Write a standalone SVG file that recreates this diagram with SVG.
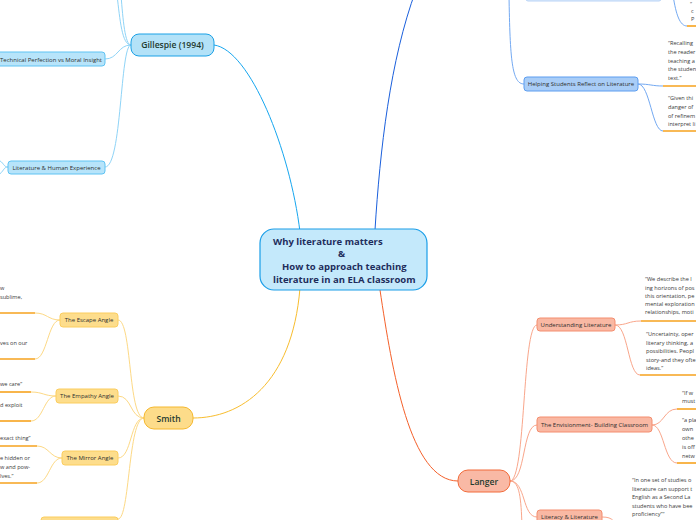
<svg xmlns="http://www.w3.org/2000/svg" width="696" height="520" viewBox="0 0 696 520">
<style>
.t{font-family:"Open Sans","Noto Sans","DejaVu Sans",sans-serif}
.main{font-size:9.5px;font-weight:bold;fill:#1e2d5c}
.mt{font-size:8.6px;font-weight:600;fill:#1f3b2f}
.sub{font-size:6px;fill:#2e2e2e}
.q{font-size:5.6px;fill:#3a3a3a}
.ul{stroke:#f6a21e;stroke-width:1.6;fill:none}
.c{fill:none;stroke-width:1}
.gb{fill:#b7e4fa;stroke:#5ec3f3;stroke-width:1}
.hb{fill:#a9cdf7;stroke:#5c9df0;stroke-width:1}
.sb{fill:#fddd8c;stroke:#fbcd5e;stroke-width:1}
.lb{fill:#f9b8a3;stroke:#f48d6e;stroke-width:1}
</style>
<rect width="696" height="520" fill="#ffffff"/>
<g id="connectors">
  <path class="c" stroke="#16a6ef" stroke-width="1.8" d="M300,232 C290,150 250,50 214,45"/>
  <path class="c" stroke="#1a5fdc" stroke-width="1.8" d="M375,230 C380,150 390,60 416,-10"/>
  <path class="c" stroke="#f8bd2e" stroke-width="1.8" d="M300,288 C292,385 240,418 193,418"/>
  <path class="c" stroke="#f4602a" stroke-width="1.8" d="M380,290 C392,370 410,481 458,481"/>
  <g stroke="#8fd4f7">
    <path class="c" d="M131,45 C118,45 118,59 105,59"/>
    <path class="c" d="M131,45 C120,45 122,167 105,167"/>
    <path class="c" d="M131,45 C122,45 120,20 117,-5"/>
    <path class="c" d="M131,45 C125,45 123,20 121,-5"/>
    <path class="c" d="M8,167 C3,167 4,162 -2,160"/>
    <path class="c" d="M8,167 C3,167 4,172 -2,175"/>
  </g>
  <g stroke="#73a9f2">
    <path class="c" d="M509,-5 C510,60 512,84 524,84"/>
    <path class="c" d="M638,84 C650,84 652,86 663,86"/>
    <path class="c" d="M638,84 C650,84 652,131 663,131"/>
    <path class="c" d="M673,-5 C676,15 680,26 687,26"/>
  </g>
  <g stroke="#f9a68b">
    <path class="c" d="M510,481 C526,481 522,325 537,325"/>
    <path class="c" d="M510,481 C526,481 522,425 537,425"/>
    <path class="c" d="M510,481 C526,481 522,517 537,517"/>
    <path class="c" d="M510,481 C520,481 521,500 522,525"/>
    <path class="c" d="M615,325 C628,325 628,321 641,321"/>
    <path class="c" d="M615,325 C628,325 628,375 640,375"/>
    <path class="c" d="M652,425 C664,425 664,409 677,409"/>
    <path class="c" d="M652,425 C664,425 664,463 677,463"/>
    <path class="c" d="M602,517 C614,517 614,522 618,530"/>
  </g>
  <g stroke="#fdd985">
    <path class="c" d="M144,418 C128,418 132,320 118,320"/>
    <path class="c" d="M144,418 C130,418 132,396 118,396"/>
    <path class="c" d="M144,418 C130,418 132,458 118,458"/>
    <path class="c" d="M144,418 C128,418 130,519 118,519"/>
    <path class="c" d="M60,320 C48,320 47,313 35,313"/>
    <path class="c" d="M60,320 C48,320 47,359 35,359"/>
    <path class="c" d="M56,396 C44,396 43,392 31,392"/>
    <path class="c" d="M56,396 C44,396 43,421 31,421"/>
    <path class="c" d="M62,458 C50,458 49,446 37,446"/>
    <path class="c" d="M62,458 C50,458 49,483 37,483"/>
  </g>
  <g class="ul">
    <line x1="687" y1="26" x2="696" y2="26"/>
    <line x1="663" y1="86" x2="696" y2="86"/>
    <line x1="663" y1="131" x2="696" y2="131"/>
    <line x1="641" y1="321" x2="696" y2="321"/>
    <line x1="640" y1="375" x2="696" y2="375"/>
    <line x1="677" y1="409" x2="696" y2="409"/>
    <line x1="677" y1="463" x2="696" y2="463"/>
    <line x1="0" y1="313" x2="35" y2="313"/>
    <line x1="0" y1="359" x2="35" y2="359"/>
    <line x1="0" y1="392" x2="31" y2="392"/>
    <line x1="0" y1="421" x2="31" y2="421"/>
    <line x1="0" y1="446" x2="37" y2="446"/>
    <line x1="0" y1="483" x2="37" y2="483"/>
  </g>
</g>
<g id="center">
  <rect x="260" y="229" width="167" height="61" rx="14" fill="#c4e9fb" stroke="#1a9ee8" stroke-width="1.2"/>
  <text class="t main" x="273" y="245">Why literature matters</text>
  <text class="t main" x="338" y="257">&amp;</text>
  <text class="t main" x="282" y="270">How to approach teaching</text>
  <text class="t main" x="273" y="283">literature in an ELA classroom</text>
</g>
<g id="gillespie">
  <rect x="131" y="34" width="83" height="22" rx="8" fill="#b3e2f8" stroke="#1ba1e6" stroke-width="1"/>
  <text class="t mt" x="172.5" y="48" text-anchor="middle">Gillespie (1994)</text>
</g>
<g id="technical">
  <rect class="gb" x="-6" y="52" width="111" height="14" rx="3"/>
  <text class="t sub" x="0" y="61.5">Technical Perfection vs Moral Insight</text>
</g>
<g id="litexp">
  <rect class="gb" x="8" y="161" width="97" height="13" rx="3"/>
  <text class="t sub" x="56.5" y="170" text-anchor="middle">Literature &amp; Human Experience</text>
</g>
<g id="topbox">
  <rect x="526" y="-20" width="135" height="21" rx="2" fill="#dce9fc" stroke="#b9d4f7"/>
</g>
<g id="helping">
  <rect class="hb" x="524" y="77" width="114" height="14" rx="3"/>
  <text class="t sub" x="581" y="86.3" text-anchor="middle">Helping Students Reflect on Literature</text>
</g>
<g id="toptext">
  <text class="t q" x="690" y="6">“</text>
  <text class="t q" x="691" y="13">c</text>
  <text class="t q" x="691" y="21">P</text>
</g>
<g id="recalling">
  <text class="t q" x="668" y="45">“Recalling</text>
  <text class="t q" x="668" y="54">the reader</text>
  <text class="t q" x="668" y="62.5">teaching a</text>
  <text class="t q" x="668" y="71">the studen</text>
  <text class="t q" x="668" y="79.5">text.”</text>
</g>
<g id="given">
  <text class="t q" x="668" y="100">“Given thi</text>
  <text class="t q" x="668" y="109">danger of</text>
  <text class="t q" x="668" y="117.5">of refinem</text>
  <text class="t q" x="668" y="126">interpret li</text>
</g>
<g id="smith">
  <rect x="144" y="407" width="49" height="22" rx="10" fill="#fddc8a" stroke="#f5b82e" stroke-width="1"/>
  <text class="t mt" x="168.5" y="421.5" text-anchor="middle">Smith</text>
</g>
<g id="escape">
  <rect class="sb" x="60" y="313" width="58" height="14" rx="3"/>
  <text class="t sub" x="89" y="322.3" text-anchor="middle">The Escape Angle</text>
  <text class="t q" x="0" y="290">w</text>
  <text class="t q" x="0" y="299">sublime,</text>
  <text class="t q" x="0" y="345">ves on our</text>
</g>
<g id="empathy">
  <rect class="sb" x="56" y="389" width="62" height="14" rx="3"/>
  <text class="t sub" x="87" y="398.3" text-anchor="middle">The Empathy Angle</text>
  <text class="t q" x="0" y="386">we care”</text>
  <text class="t q" x="0" y="407">d exploit</text>
</g>
<g id="mirror">
  <rect class="sb" x="62" y="451" width="56" height="14" rx="3"/>
  <text class="t sub" x="90" y="460.3" text-anchor="middle">The Mirror Angle</text>
  <text class="t q" x="0" y="440">exact thing”</text>
  <text class="t q" x="0" y="460">e hidden or</text>
  <text class="t q" x="0" y="469">w and pow-</text>
  <text class="t q" x="0" y="478">lves.”</text>
</g>
<g id="smithbottom">
  <rect class="sb" x="41" y="517" width="77" height="14" rx="3"/>
</g>
<g id="langer">
  <rect x="458" y="470" width="52" height="22" rx="10" fill="#f9b9a5" stroke="#f26b3a" stroke-width="1"/>
  <text class="t mt" x="484" y="484.5" text-anchor="middle">Langer</text>
</g>
<g id="understanding">
  <rect class="lb" x="537" y="318" width="78" height="13" rx="3"/>
  <text class="t sub" x="576" y="327" text-anchor="middle">Understanding Literature</text>
  <text class="t q" x="645" y="281">“We describe the l</text>
  <text class="t q" x="645" y="289.5">ing horizons of pos</text>
  <text class="t q" x="645" y="297.5">this orientation, pe</text>
  <text class="t q" x="645" y="305.5">mental exploration</text>
  <text class="t q" x="645" y="313.5">relationships, moti</text>
  <text class="t q" x="646" y="336">“Uncertainty, oper</text>
  <text class="t q" x="646" y="345">literary thinking, a</text>
  <text class="t q" x="646" y="353">possibilities. Peopl</text>
  <text class="t q" x="646" y="361.5">story-and they ofte</text>
  <text class="t q" x="646" y="370">ideas.”</text>
</g>
<g id="envisionment">
  <rect class="lb" x="537" y="417" width="115" height="15" rx="3"/>
  <text class="t sub" x="594.5" y="426.8" text-anchor="middle">The Envisionment- Building Classroom</text>
  <text class="t q" x="682" y="395">“If w</text>
  <text class="t q" x="682" y="403">must</text>
  <text class="t q" x="682" y="422">“a pla</text>
  <text class="t q" x="682" y="431">own</text>
  <text class="t q" x="682" y="440">othe</text>
  <text class="t q" x="682" y="449">is off</text>
  <text class="t q" x="682" y="458">netw</text>
</g>
<g id="literacy">
  <rect class="lb" x="537" y="510" width="65" height="14" rx="3"/>
  <text class="t sub" x="569.5" y="519.3" text-anchor="middle">Literacy &amp; Literature</text>
  <text class="t q" x="632" y="482">“In one set of studies o</text>
  <text class="t q" x="632" y="491">literature can support t</text>
  <text class="t q" x="632" y="499">English as a Second La</text>
  <text class="t q" x="632" y="508">students who have bee</text>
  <text class="t q" x="632" y="516">proficiency”“</text>
</g>
</svg>
